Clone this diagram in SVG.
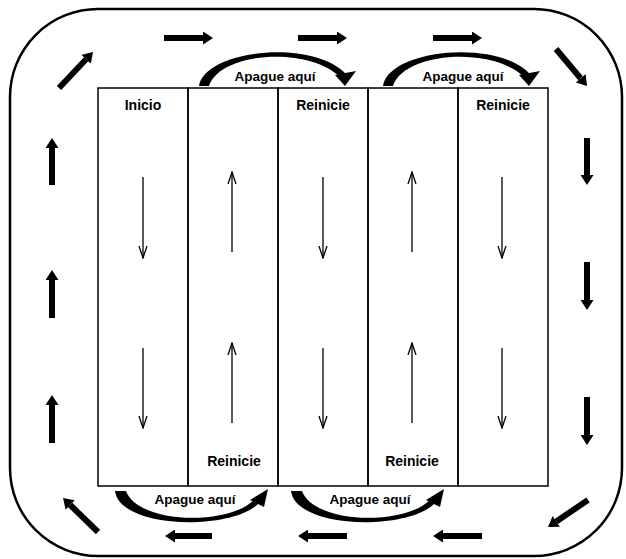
<svg xmlns="http://www.w3.org/2000/svg" width="626" height="559" viewBox="0 0 626 559">
<style>
.lbl{font-family:"Liberation Sans",Arial,sans-serif;font-weight:bold;font-size:14px;fill:#000;text-anchor:middle}
.ap{font-size:13.5px}
.thick{stroke:#000;stroke-width:6;fill:none;marker-end:url(#head)}
.thin{stroke:#000;stroke-width:1.3;fill:none;marker-end:url(#vhead)}
.col{fill:none;stroke:#000;stroke-width:1.5}
</style>
<defs>
<marker id="head" markerUnits="userSpaceOnUse" viewBox="0 0 10 13" refX="0" refY="6.5" markerWidth="10" markerHeight="13" orient="auto">
<path d="M0,0 L10,6.5 L0,13 Z" fill="#000"/>
</marker>
<marker id="vhead" markerUnits="userSpaceOnUse" viewBox="0 0 13 10" refX="12" refY="5" markerWidth="13" markerHeight="10" orient="auto">
<path d="M0,1 L12,5 L0,9" fill="none" stroke="#000" stroke-width="1.3"/>
</marker>
<g id="arcTop">
<path d="M199,86 C204,50 312,38 346,74 L340,77 C308,46 220,52 209,86 Z" fill="#000"/>
<polygon points="335,75 356,71 345,86" fill="#000"/>
</g>
<g id="arcBot">
<path d="M115,491 C120,529 230,531 258,504 L254,500 C228,526 138,524 126,491 Z" fill="#000"/>
<polygon points="250,500 268,489 264,507" fill="#000"/>
</g>
</defs>
<rect id="frame" x="10" y="9" width="612" height="547" rx="88" ry="88" fill="#fff" stroke="#000" stroke-width="2.5"/>
<g id="columns">
<rect id="col1" class="col" x="98" y="88" width="90" height="398"/>
<rect id="col2" class="col" x="188" y="88" width="90" height="398"/>
<rect id="col3" class="col" x="278" y="88" width="90" height="398"/>
<rect id="col4" class="col" x="368" y="88" width="90" height="398"/>
<rect id="col5" class="col" x="458" y="88" width="90" height="398"/>
</g>
<g id="labels">
<text class="lbl" x="143" y="110">Inicio</text>
<text class="lbl" x="323" y="110">Reinicie</text>
<text class="lbl" x="503" y="110">Reinicie</text>
<text class="lbl" x="234" y="466">Reinicie</text>
<text class="lbl" x="412" y="466">Reinicie</text>
<text class="lbl ap" x="275" y="81">Apague aquí</text>
<text class="lbl ap" x="463" y="81">Apague aquí</text>
<text class="lbl ap" x="195" y="504">Apague aquí</text>
<text class="lbl ap" x="370" y="504">Apague aquí</text>
</g>
<g id="connectors">
<line class="thin" x1="143" y1="177" x2="143" y2="258"/>
<line class="thin" x1="143" y1="348" x2="143" y2="428"/>
<line class="thin" x1="232" y1="252" x2="232" y2="172"/>
<line class="thin" x1="232" y1="423" x2="232" y2="343"/>
<line class="thin" x1="323" y1="177" x2="323" y2="258"/>
<line class="thin" x1="323" y1="348" x2="323" y2="428"/>
<line class="thin" x1="412" y1="252" x2="412" y2="172"/>
<line class="thin" x1="412" y1="423" x2="412" y2="343"/>
<line class="thin" x1="502" y1="177" x2="502" y2="258"/>
<line class="thin" x1="502" y1="348" x2="502" y2="428"/>
<line class="thick" x1="164" y1="38" x2="203" y2="38"/>
<line class="thick" x1="298" y1="38" x2="337" y2="38"/>
<line class="thick" x1="433" y1="38" x2="472" y2="38"/>
<line class="thick" x1="59" y1="88" x2="86.1" y2="59.3"/>
<line class="thick" x1="556" y1="49" x2="580.6" y2="78.3"/>
<line class="thick" x1="587" y1="138" x2="587" y2="175"/>
<line class="thick" x1="587" y1="262" x2="587" y2="300"/>
<line class="thick" x1="587" y1="397" x2="587" y2="435"/>
<line class="thick" x1="52" y1="185" x2="52" y2="148"/>
<line class="thick" x1="52" y1="318" x2="52" y2="280"/>
<line class="thick" x1="52" y1="443" x2="52" y2="405"/>
<line class="thick" x1="98" y1="532" x2="70.2" y2="505"/>
<line class="thick" x1="212" y1="536" x2="175" y2="536"/>
<line class="thick" x1="347" y1="536" x2="308" y2="536"/>
<line class="thick" x1="482" y1="536" x2="443" y2="536"/>
<line class="thick" x1="588" y1="500" x2="556.3" y2="521.4"/>
<use href="#arcTop"/>
<use href="#arcTop" transform="translate(184,0)"/>
<use href="#arcBot"/>
<use href="#arcBot" transform="translate(176,0)"/>
</g>
</svg>
